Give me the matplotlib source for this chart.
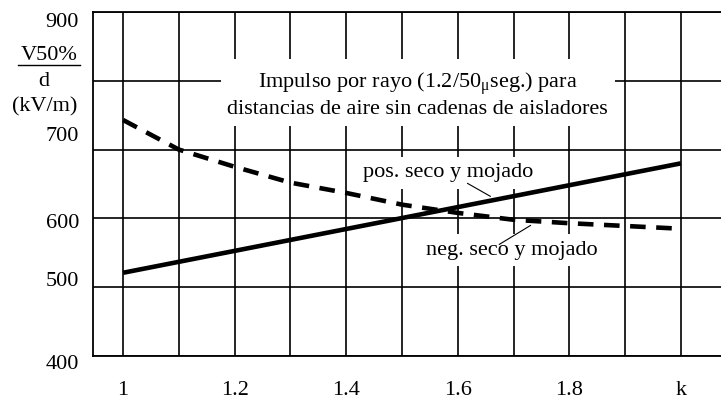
import numpy as np
import matplotlib
matplotlib.use("Agg")
from matplotlib import pyplot as plt
from matplotlib.transforms import ScaledTranslation

plt.rcParams['font.family'] = ['Liberation Serif', 'DejaVu Serif']
plt.rcParams['mathtext.fontset'] = 'custom'
plt.rcParams['mathtext.rm'] = 'Liberation Serif'
plt.rcParams['mathtext.it'] = 'Liberation Serif'

# Curve data: V50%/d (kV/m) against k
k_pos = [1.0, 2.0]
v_pos = [521, 680]

k_neg = [1.0, 1.1, 1.2, 1.3, 1.4, 1.5, 1.6, 1.7, 1.8, 1.9, 2.0]
v_neg = [743, 700, 675, 652, 637, 620, 608, 598, 593, 589, 585]

x_ticks = [1.0, 1.1, 1.2, 1.3, 1.4, 1.5, 1.6, 1.7, 1.8, 1.9, 2.0]
x_labels = ['1', '', '1.2', '', '1.4', '', '1.6', '', '1.8', '', 'k']
y_ticks = [400, 500, 600, 700, 800, 900]
y_labels = ['400', '500', '600', '700', '', '900']
# hand-placed vertical nudges of the y labels, in points
y_label_shift = [-4, 6, -2, 11, 0, -6]

FS = 16

fig = plt.figure(figsize=(7.21, 4.0), dpi=100)
ax = fig.add_axes([93 / 721, 44 / 400, 628 / 721, 344 / 400])

ax.set_xlim(0.946, 2.072)
ax.set_ylim(400, 900)

ax.set_xticks(x_ticks)
ax.set_xticklabels(x_labels, fontsize=FS)
ax.set_yticks(y_ticks)
ax.set_yticklabels(y_labels, fontsize=FS)
ax.tick_params(axis='both', length=0)
ax.tick_params(axis='x', pad=18)
ax.tick_params(axis='y', pad=10)

for lab, dy in zip(ax.get_yticklabels(), y_label_shift):
    lab.set_transform(lab.get_transform() + ScaledTranslation(0, dy / 72, fig.dpi_scale_trans))

ax.grid(True, color='black', linewidth=1.2)
ax.set_axisbelow(True)
for side in ['left', 'top', 'bottom']:
    ax.spines[side].set_linewidth(1.3)
ax.spines['right'].set_visible(False)

ax.plot(k_pos, v_pos, color='black', linewidth=3.3, solid_capstyle='butt', zorder=5)
ax.plot(k_neg, v_neg, color='black', linewidth=3.3, dashes=(3.4, 2.3), zorder=5)

# Labels with white backgrounds that blank out the grid
white = dict(facecolor='white', edgecolor='none', boxstyle='square,pad=0.3')
ax.text(1.528, 780, 'Impulso por rayo (1.2/50$_{\\mathrm{\u03bc}}$seg.) para\n'
        'distancias de aire sin cadenas de aisladores',
        ha='center', va='center', fontsize=FS, linespacing=1.25,
        bbox=white, zorder=3)
ax.text(1.582, 666, 'pos. seco y mojado', ha='center', va='center',
        fontsize=FS, bbox=white, zorder=3)
ax.text(1.697, 554, 'neg. seco y mojado', ha='center', va='center',
        fontsize=FS, bbox=white, zorder=3)

ax.annotate('', xy=(1.663, 630), xytext=(1.613, 653),
            arrowprops=dict(arrowstyle='-', color='black', lw=0.8), zorder=4)
ax.annotate('', xy=(1.735, 592), xytext=(1.670, 560),
            arrowprops=dict(arrowstyle='-', color='black', lw=0.8), zorder=4)

# Y axis quantity, written in place of the 800 label
fig.text(49 / 721, 1 - 55 / 400, 'V50%', ha='center', va='center', fontsize=FS)
fig.add_artist(plt.Line2D([18 / 721, 80 / 721], [1 - 65 / 400, 1 - 65 / 400],
                          color='black', linewidth=1.0))
fig.text(44 / 721, 1 - 82 / 400, 'd', ha='center', va='center', fontsize=FS)
fig.text(45 / 721, 1 - 107 / 400, '(kV/m)', ha='center', va='center', fontsize=FS)

fig.savefig('out.png', dpi=100, facecolor='white')
